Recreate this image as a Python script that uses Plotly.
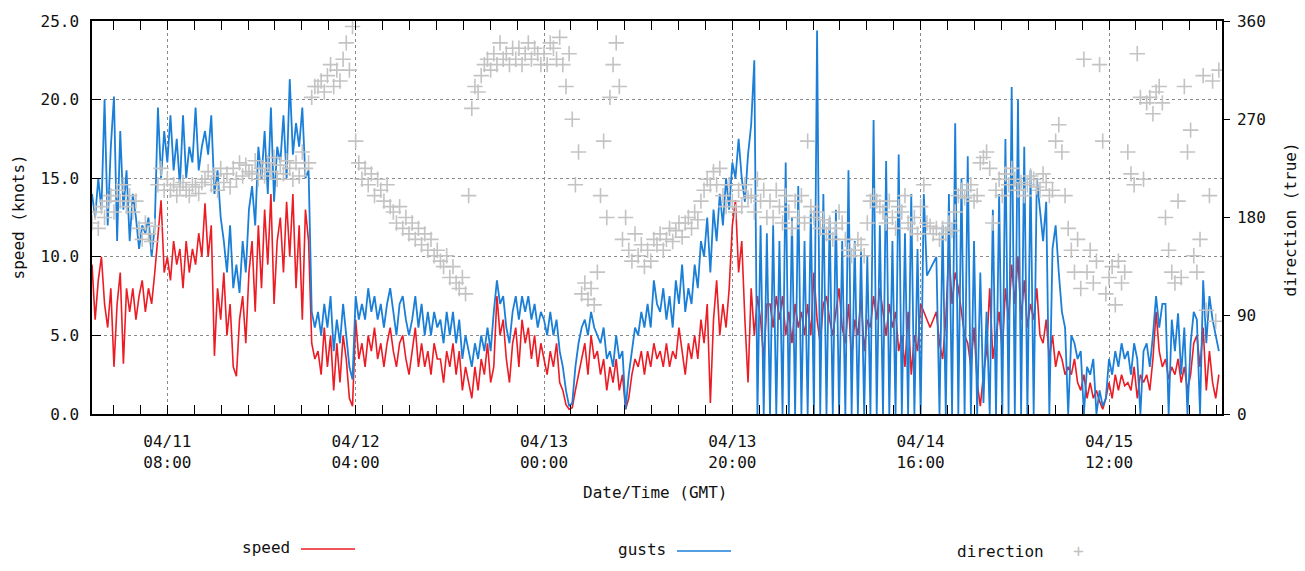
import pandas as pd
import plotly.graph_objects as go

# Wind record, 20-minute samples (three per hour), one list per UTC day.
speed_0411 = [9.5, 6.0, 8.5, 10.0, 7.0, 5.5, 8.0, 3.0, 7.0, 9.0, 3.2, 8.0,
              6.5, 8.0, 6.0, 7.5, 8.5, 6.5, 8.0, 7.0, 9.0, 11.5, 13.6, 9.0,
              10.0, 8.5, 11.0, 9.5, 10.5, 8.0, 11.0, 9.0, 10.5, 9.5, 11.5, 10.0,
              13.4, 10.0, 12.0, 3.7, 8.0, 6.0, 9.0, 5.0, 7.0, 3.0, 2.4, 6.0,
              7.5, 4.5, 9.0, 11.0, 6.5, 12.0, 8.0, 13.0, 9.5, 14.0, 7.0, 11.0,
              12.5, 9.0, 13.5, 10.0, 14.0, 8.0, 12.0, 6.0, 13.0, 11.0, 4.5, 3.5]
speed_0412 = [4.0, 2.5, 5.5, 3.0, 5.0, 1.5, 4.5, 2.0, 5.0, 3.5, 1.0, 0.5,
              6.0, 3.5, 4.5, 3.0, 5.0, 4.0, 5.5, 3.5, 4.5, 3.0, 4.5, 5.5,
              4.0, 3.0, 4.5, 5.0, 3.5, 2.5, 4.0, 5.5, 3.0, 4.5, 3.0, 4.0,
              2.5, 4.5, 3.5, 3.5, 2.0, 4.0, 3.0, 4.5, 2.5, 4.0, 1.5, 3.0,
              2.0, 1.0, 3.0, 1.5, 3.5, 2.5, 4.5, 2.0, 3.0, 7.5, 5.0, 6.0,
              3.5, 2.0, 4.5, 5.5, 3.0, 6.0, 4.5, 5.5, 3.5, 5.0, 3.0, 4.5]
speed_0413 = [3.5, 2.5, 4.0, 3.0, 4.5, 2.0, 1.5, 0.6, 0.3, 0.4, 1.5, 2.5,
              3.5, 4.5, 2.5, 5.0, 3.5, 4.0, 2.5, 3.5, 1.5, 3.0, 2.0, 3.5,
              1.5, 2.5, 0.3, 1.0, 2.5, 3.5, 3.0, 4.0, 2.5, 4.0, 3.0, 4.5,
              3.5, 4.0, 3.0, 4.5, 3.0, 4.0, 3.5, 5.5, 4.0, 2.5, 4.5, 3.5,
              5.0, 3.5, 6.0, 4.5, 7.0, 0.7, 6.0, 8.5, 5.0, 7.0, 5.5, 8.0,
              12.0, 13.6, 9.0, 11.0, 6.0, 2.0, 8.0, 5.0, 7.5, 6.0, 3.5, 7.0]
speed_0414 = [7.0, 5.5, 7.5, 6.0, 7.5, 5.0, 6.5, 4.5, 7.0, 5.5, 6.5, 5.0,
              7.0, 5.0, 9.0, 6.0, 4.5, 7.0, 7.5, 6.0, 5.0, 6.5, 8.0, 5.5,
              4.5, 7.0, 3.5, 6.0, 5.0, 7.5, 4.0, 6.0, 5.5, 7.5, 6.0, 8.0,
              6.5, 5.0, 7.0, 5.5, 6.5, 4.0, 5.0, 3.0, 6.5, 2.5, 5.0, 4.0,
              7.0, 6.5, 6.0, 5.5, 6.0, 6.5, 4.5, 3.5, 6.0, 10.5, 7.0, 9.0,
              8.0, 6.5, 5.0, 4.5, 3.0, 5.5, 2.0, 0.5, 2.5, 4.0, 8.0, 3.5]
speed_0415 = [5.0, 6.5, 4.0, 8.0, 6.0, 9.5, 7.0, 10.0, 6.0, 8.5, 5.5, 7.0,
              6.0, 8.0, 5.0, 4.5, 6.0, 3.5, 5.0, 3.0, 4.0, 3.5, 2.5, 3.0,
              2.5, 3.5, 2.0, 1.5, 2.5, 1.0, 2.0, 1.0, 1.5, 0.8, 0.3, 1.0,
              2.0, 1.0, 2.5, 1.5, 2.5, 1.8, 2.0, 1.5, 3.0, 1.0, 2.5, 2.0,
              2.5, 1.5, 3.5, 6.5, 4.0, 3.0, 3.5, 2.2, 3.0, 2.5, 3.5, 2.0,
              3.0, 1.5, 2.5, 4.5, 5.0, 3.0, 5.5, 1.5, 4.0, 2.0, 1.0, 2.5]

gusts_0411 = [14.0, 12.5, 15.0, 13.0, 20.0, 12.0, 17.0, 20.2, 11.0, 18.0, 13.0, 15.5,
              11.0, 14.0, 12.5, 10.5, 12.0, 11.5, 12.5, 10.0, 12.0, 19.5, 15.0, 18.0,
              16.0, 19.0, 15.5, 17.5, 14.5, 19.0, 15.0, 17.0, 16.0, 19.5, 15.5, 17.0,
              18.0, 16.5, 19.0, 14.0, 15.5, 12.5, 11.0, 9.0, 12.0, 8.0, 9.5, 7.7,
              11.0, 9.0, 13.0, 14.5, 12.0, 17.0, 15.0, 18.0, 14.0, 19.5, 13.5, 17.0,
              16.0, 19.0, 15.0, 21.3, 16.5, 18.5, 17.0, 19.5, 15.0, 15.5, 6.5, 5.5]
gusts_0412 = [6.5, 5.0, 7.0, 5.5, 7.5, 4.0, 6.0, 4.5, 7.0, 5.0, 3.0, 2.2,
              7.5, 6.0, 7.0, 6.0, 8.0, 6.5, 7.5, 6.0, 7.0, 5.5, 7.0, 8.0,
              6.5, 5.0, 7.0, 7.5, 6.0, 5.0, 6.0, 7.5, 5.5, 7.0, 5.0, 6.5,
              5.0, 6.5, 5.5, 6.0, 4.5, 6.5, 5.0, 6.5, 4.5, 6.0, 3.5, 5.0,
              4.0, 3.0, 4.5, 3.5, 5.0, 4.0, 5.5, 4.0, 6.5, 8.5, 7.0, 7.5,
              5.5, 4.5, 6.5, 7.5, 6.0, 7.5, 6.5, 7.5, 6.0, 7.0, 5.5, 6.5]
gusts_0413 = [6.0, 5.0, 6.5, 5.0, 6.0, 4.0, 3.0, 1.5, 0.5, 0.7, 3.0, 4.5,
              5.5, 6.0, 5.0, 6.5, 5.5, 5.0, 4.5, 5.5, 3.5, 4.0, 3.0, 5.0,
              3.5, 4.0, 0.3, 2.5, 4.0, 5.5, 5.0, 6.5, 5.5, 7.0, 5.5, 8.5,
              7.0, 6.5, 8.0, 6.0, 7.5, 5.5, 8.5, 7.0, 9.5, 6.5, 8.0, 7.0,
              9.5, 8.0, 11.0, 10.0, 12.5, 9.0, 13.0, 11.0, 14.0, 12.0, 15.0, 13.0,
              16.0, 15.0, 17.5, 15.0, 13.5, 16.5, 18.4, 22.5, 0.0, 12.0, 0.0, 11.5]
gusts_0414 = [0.0, 12.0, 0.0, 11.0, 0.0, 16.0, 0.0, 12.5, 0.0, 14.5, 0.0, 11.0,
              0.0, 13.0, 0.0, 24.4, 0.0, 14.0, 0.0, 12.5, 0.0, 13.0, 0.0, 11.0,
              0.0, 15.5, 0.0, 11.0, 0.0, 10.5, 0.0, 10.0, 0.0, 18.7, 0.0, 12.0,
              0.0, 16.1, 0.0, 11.0, 0.0, 16.5, 0.0, 11.5, 0.0, 14.0, 0.0, 10.5,
              0.0, 14.0, 8.8, 9.2, 9.6, 10.0, 0.0, 12.0, 0.0, 14.0, 0.0, 18.5,
              0.0, 15.0, 0.0, 16.4, 0.0, 11.0, 0.0, 9.0, 0.7, 6.5, 0.0, 13.0]
gusts_0415 = [0.0, 14.0, 0.0, 17.5, 0.0, 20.8, 0.0, 20.0, 0.0, 17.0, 0.0, 15.5,
              0.0, 15.0, 13.0, 11.0, 13.5, 0.0, 10.5, 12.0, 9.0, 6.5, 5.5, 0.0,
              5.0, 4.5, 3.5, 4.0, 0.0, 3.0, 2.5, 3.5, 0.0, 1.5, 0.5, 1.0,
              3.5, 2.5, 4.0, 3.0, 4.5, 3.5, 4.0, 2.5, 4.5, 3.5, 0.0, 4.0,
              4.5, 3.0, 5.0, 7.5, 5.5, 7.0, 7.0, 0.0, 6.0, 4.0, 6.4, 2.5,
              5.5, 0.0, 4.5, 6.5, 6.0, 0.0, 8.5, 4.5, 7.5, 6.0, 5.0, 4.0]

direction_0411 = [175, 185, 170, 190, 180, 195, 200, 185, 205, 195, 210, 190,
                  200, 185, 195, 170, 160, 175, 165, 158, 172, 210, 225, 205,
                  215, 205, 210, 200, 208, 212, 205, 200, 210, 208, 202, 212,
                  215, 222, 210, 218, 205, 225, 212, 220, 208, 225, 215, 230,
                  218, 228, 222, 220, 232, 215, 225, 218, 230, 222, 235, 215,
                  228, 220, 232, 225, 215, 230, 218, 240, 225, 230, 290, 300]
direction_0412 = [300, 305, 295, 310, 320, 300, 315, 305, 325, 340, 315, 355,
                  250, 230, 215, 225, 210, 220, 200, 215, 205, 195, 210, 190,
                  185, 175, 190, 170, 180, 165, 175, 160, 170, 155, 165, 150,
                  160, 145, 150, 140, 135, 145, 125, 135, 120, 115, 125, 110,
                  200, 280, 300, 295, 310, 320, 325, 315, 330, 320, 340, 325,
                  330, 320, 335, 325, 335, 320, 330, 340, 325, 335, 330, 320]
direction_0413 = [330, 320, 340, 335, 325, 345, 320, 300, 330, 270, 210, 240,
                  110, 120, 105, 115, 100, 130, 200, 250, 180, 290, 320, 340,
                  300, 160, 180, 150, 140, 165, 145, 155, 135, 150, 140, 160,
                  155, 165, 150, 160, 170, 158, 168, 175, 162, 175, 180, 170,
                  185, 178, 195, 205, 215, 210, 222, 210, 225, 200, 190, 210,
                  195, 185, 205, 190, 210, 198, 200, 185, 215, 195, 205, 180]
direction_0414 = [195, 180, 205, 190, 175, 200, 185, 170, 195, 180, 200, 175,
                  250, 190, 180, 185, 170, 178, 165, 175, 160, 170, 185, 175,
                  160, 150, 145, 150, 160, 155, 145, 175, 195, 200, 195, 190,
                  185, 175, 195, 180, 170, 190, 185, 200, 175, 170, 180, 165,
                  190, 210, 175, 172, 165, 170, 160, 170, 165, 175, 168, 185,
                  200, 205, 198, 205, 210, 195, 200, 230, 235, 240, 225, 175]
direction_0415 = [205, 215, 200, 220, 210, 225, 215, 205, 212, 200, 210, 218,
                  215, 208, 205, 220, 212, 200, 205, 250, 265, 240, 200, 170,
                  150, 130, 160, 115, 325, 130, 150, 120, 140, 320, 250, 110,
                  125, 135, 100, 140, 120, 130, 240, 220, 210, 330, 290, 215,
                  285, 290, 275, 295, 300, 285, 180, 150, 130, 120, 195, 125,
                  300, 240, 260, 145, 130, 160, 310, 95, 200, 305, 85, 315]

tick_times = ["2009-04-11 08:00", "2009-04-12 04:00", "2009-04-13 00:00",
              "2009-04-13 20:00", "2009-04-14 16:00", "2009-04-15 12:00"]
tick_labels = ["04/11<br>08:00", "04/12<br>04:00", "04/13<br>00:00",
               "04/13<br>20:00", "04/14<br>16:00", "04/15<br>12:00"]
speed_ticks = [0, 5, 10, 15, 20, 25]
direction_ticks = [0, 90, 180, 270, 360]

speed = speed_0411 + speed_0412 + speed_0413 + speed_0414 + speed_0415
gusts = gusts_0411 + gusts_0412 + gusts_0413 + gusts_0414 + gusts_0415
direction = (direction_0411 + direction_0412 + direction_0413
             + direction_0414 + direction_0415)
times = pd.date_range("2009-04-11 00:00", periods=len(speed), freq="20min")

RED = "#ec1c24"
BLUE = "#1b7fd8"
GREY = "#c3c3c3"
FONT = "DejaVu Sans Mono"

# page geometry (pixels) of the plotting frame
L, R, T, B, W, H = 92, 1222, 18, 414, 1305, 571


def px(x):
    return (x - L) / (R - L)


def py(y):
    return (B - y) / (B - T)


fig = go.Figure()
fig.add_trace(go.Scatter(x=times, y=speed, name="speed", mode="lines",
                         line=dict(color=RED, width=1.6)))
fig.add_trace(go.Scatter(x=times, y=gusts, name="gusts", mode="lines",
                         line=dict(color=BLUE, width=1.8)))
fig.add_trace(go.Scatter(x=times, y=direction, name="direction", mode="markers",
                         yaxis="y2",
                         marker=dict(symbol="cross-thin", size=11, color=GREY,
                                     line=dict(color=GREY, width=1.6))))

axis_font = dict(family=FONT, size=16, color="#111111")

fig.update_layout(
    width=W, height=H,
    margin=dict(l=L, r=W - R, t=T, b=H - B),
    paper_bgcolor="white", plot_bgcolor="white",
    showlegend=False,
    font=axis_font,
    xaxis=dict(
        type="date",
        range=["2009-04-11 00:00", "2009-04-16 00:00"],
        tickmode="array", tickvals=tick_times, ticktext=tick_labels,
        ticks="inside", ticklen=9, tickwidth=1, tickcolor="black",
        ticklabelstandoff=12,
        showline=True, linecolor="black", linewidth=1.5, mirror="allticks",
        showgrid=True, gridcolor="#8a8a8a", griddash="dot", gridwidth=1,
        zeroline=False, tickfont=axis_font,
        minor=dict(ticks="inside", ticklen=5, tickcolor="black",
                   tickmode="linear", tick0="2009-04-11 08:00",
                   dtick=20 * 3600 * 1000 / 7, showgrid=False),
    ),
    yaxis=dict(
        range=[0, 25], tickmode="array", tickvals=speed_ticks,
        tickformat=".1f",
        ticks="inside", ticklen=9, tickcolor="black",
        ticklabelstandoff=8,
        showline=True, linecolor="black", linewidth=1.5, mirror=True,
        showgrid=True, gridcolor="#8a8a8a", griddash="dot", gridwidth=1,
        zeroline=False, tickfont=axis_font,
    ),
    yaxis2=dict(
        range=[0, 360], overlaying="y", side="right",
        tickmode="array", tickvals=direction_ticks,
        ticks="outside", ticklen=6, tickcolor="black",
        ticklabelstandoff=4,
        showline=True, linecolor="black", linewidth=1.5,
        showgrid=False, zeroline=False, tickfont=axis_font,
    ),
)


def label(text, x, y, **kw):
    font = kw.pop("font", axis_font)
    opts = dict(xanchor="center", yanchor="middle")
    opts.update(kw)
    fig.add_annotation(text=text, x=px(x), y=py(y), xref="paper",
                       yref="paper", showarrow=False, font=font, **opts)


# axis titles
label("speed (knots)", 18, 216, textangle=-90)
label("direction (true)", 1290, 218, textangle=-90)
label("Date/Time (GMT)", 655, 493)

# key below the frame: label first, then sample
key = [("speed", 292, 549, RED), ("gusts", 668, 551, BLUE)]
for name, x_end, y_mid, colour in key:
    label(name, x_end, y_mid, xanchor="right")
    fig.add_shape(type="line", xref="paper", yref="paper",
                  x0=px(x_end + 9), x1=px(x_end + 63),
                  y0=py(y_mid + 1), y1=py(y_mid + 1),
                  line=dict(color=colour, width=1.6))
label("direction", 1046, 553, xanchor="right")
label("+", 1078, 552, font=dict(family=FONT, size=18, color=GREY))

fig.write_html("out.html")
